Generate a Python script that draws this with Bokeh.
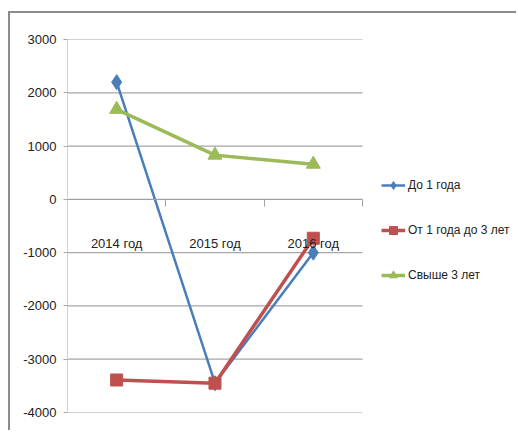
from bokeh.plotting import figure
from bokeh.models import Range1d, Legend, LegendItem, NumeralTickFormatter, FixedTicker
from bokeh.embed import file_html
from bokeh.resources import INLINE

categories = ["2014 год", "2015 год", "2016 год"]
do_1_goda = [2200, -3450, -1000]
ot_1_do_3 = [-3390, -3450, -730]
svyshe_3 = [1690, 830, 660]
y_ticks = [3000, 2000, 1000, 0, -1000, -2000, -3000, -4000]

FONT = "Liberation Sans"

xs = list(range(len(categories)))
x_lo, x_hi = -0.5, len(categories) - 0.5

p = figure(x_range=Range1d(x_lo, 4.087), y_range=Range1d(-4000, 3000),
           width=508, height=419, output_backend="svg", toolbar_location=None,
           min_border_left=57, min_border_top=26, min_border_bottom=20,
           min_border_right=0)
p.margin = (11, 0, 0, 8)
p.styles = {"border-left": "2px solid #8c8c8c", "border-top": "2px solid #8c8c8c"}
p.outline_line_color = None
p.background_fill_color = "white"

p.xgrid.grid_line_color = None
p.ygrid.grid_line_color = None
p.segment(x0=x_lo, x1=x_hi, y0=y_ticks, y1=y_ticks, line_color="#a6a6a6", line_width=1.2)

p.yaxis.ticker = y_ticks
p.yaxis.formatter = NumeralTickFormatter(format="0")
p.yaxis.axis_line_color = "#d0d0d0"
p.yaxis.major_tick_line_color = "#a6a6a6"
p.yaxis.major_tick_out = 4
p.yaxis.major_tick_in = 0
p.yaxis.minor_tick_line_color = None
p.yaxis.major_label_standoff = 7
p.yaxis.major_label_text_font = FONT
p.yaxis.major_label_text_font_size = "13px"
p.yaxis.major_label_text_color = "#222222"

p.xaxis.ticker = FixedTicker(ticks=xs, minor_ticks=[x - 0.5 for x in xs] + [x_hi])
p.xaxis.major_label_overrides = {i: c for i, c in zip(xs, categories)}
p.xaxis.bounds = (x_lo, x_hi)
p.xaxis.fixed_location = 0
p.xaxis.axis_line_color = "#a0a0a0"
p.xaxis.axis_line_width = 1.2
p.xaxis.major_tick_line_color = None
p.xaxis.minor_tick_line_color = "#a0a0a0"
p.xaxis.minor_tick_out = 7
p.xaxis.minor_tick_in = 0
p.xaxis.major_label_standoff = 30
p.xaxis.major_label_text_font = FONT
p.xaxis.major_label_text_font_size = "13px"
p.xaxis.major_label_text_color = "#222222"

blue, red, green = "#4a7ebb", "#c0504d", "#9bbb59"

l1 = p.line(xs, do_1_goda, line_color=blue, line_width=2.5)
s1 = p.scatter(xs, do_1_goda, marker="diamond", size=15, fill_color=blue, line_color=blue)
l2 = p.line(xs, ot_1_do_3, line_color=red, line_width=3.5)
s2 = p.scatter(xs, ot_1_do_3, marker="square", size=12, fill_color=red, line_color=red)
l3 = p.line(xs, svyshe_3, line_color=green, line_width=3.5)
s3 = p.scatter(xs, svyshe_3, marker="triangle", size=14, fill_color=green, line_color=green)

legend = Legend(items=[
    LegendItem(label="До 1 года", renderers=[l1, s1]),
    LegendItem(label="От 1 года до 3 лет", renderers=[l2, s2]),
    LegendItem(label="Свыше 3 лет", renderers=[l3, s3]),
], location=(314, 127))
legend.margin = 0
legend.padding = 2
legend.spacing = 25
legend.glyph_width = 24
legend.label_standoff = 3
legend.border_line_color = None
legend.background_fill_alpha = 0
legend.label_text_font = FONT
legend.label_text_font_size = "12px"
legend.label_text_color = "#222222"
p.add_layout(legend)

open("out.html", "w").write(file_html(p, INLINE))
